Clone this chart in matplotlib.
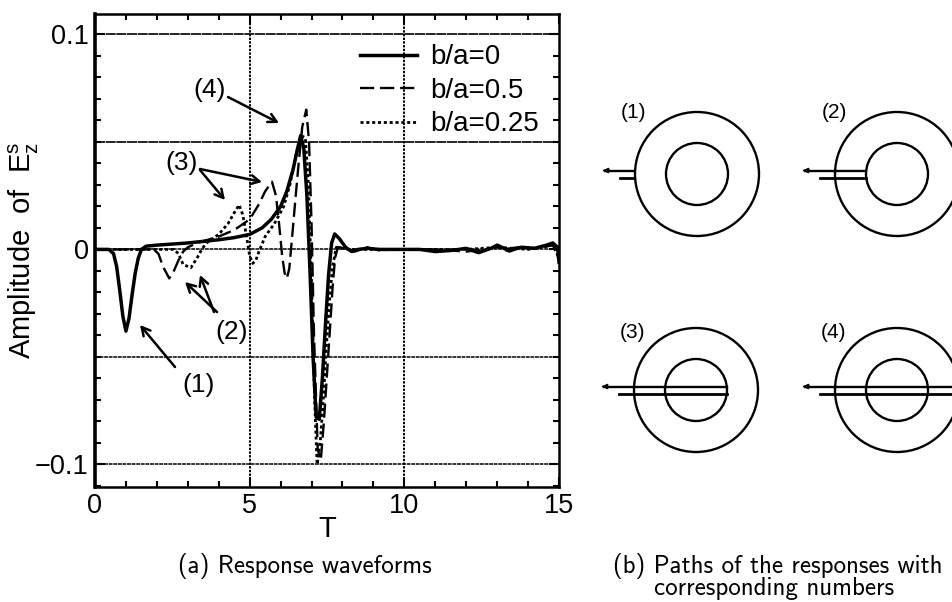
import matplotlib
matplotlib.use('Agg')
import matplotlib.pyplot as plt
from matplotlib.patches import Circle

plt.rcParams['font.family'] = ['Liberation Sans', 'DejaVu Sans']
plt.rcParams['mathtext.default'] = 'regular'

# curves
t_0 = [0, 0.45, 0.6, 0.7, 0.8, 0.9, 1.0, 1.1, 1.2, 1.3, 1.4, 1.5, 1.65, 2, 3, 4, 4.5, 5, 5.4, 5.7, 6, 6.2, 6.4, 6.55,
       6.65, 6.75, 6.85, 6.95, 7.05, 7.15, 7.25, 7.35, 7.45, 7.55, 7.65, 7.75, 7.9, 8.1, 8.3, 8.5, 8.8, 9.2, 9.8,
       10.5, 11, 11.5, 12, 12.4, 12.8, 13, 13.3, 13.8, 14.2, 14.6, 14.8, 14.95, 15]
y_0 = [0, 0, -0.002, -0.008, -0.019, -0.031, -0.038, -0.032, -0.021, -0.011, -0.004, 0, 0.0015, 0.002, 0.003, 0.0045,
       0.0055, 0.007, 0.01, 0.014, 0.02, 0.027, 0.037, 0.047, 0.053, 0.047, 0.025, -0.01, -0.05, -0.078, -0.079,
       -0.06, -0.035, -0.012, 0.003, 0.0072, 0.005, 0.001, -0.001, 0, 0.0005, 0, 0, 0, -0.001, -0.0005, 0.0005, -0.0015,
       0.0005, 0.002, 0, 0.001, 0.0005, 0.002, 0.003, 0.001, -0.006]

t_5 = [0, 1.9, 2.05, 2.2, 2.4, 2.55, 2.7, 2.85, 3.0, 3.3, 4, 4.5, 5, 5.3, 5.5, 5.72, 5.85, 5.95, 6.05, 6.13, 6.2, 6.28,
       6.38, 6.47, 6.57, 6.7, 6.83, 6.92, 7.0, 7.08, 7.2, 7.3, 7.4, 7.5, 7.6, 7.68, 7.76, 7.85, 8.0, 8.4, 8.8, 9.2, 9.6,
       10, 11, 12, 12.6, 13, 13.4, 13.8, 14.3, 14.8, 15]
y_5 = [0, 0, -0.002, -0.008, -0.0135, -0.01, -0.005, -0.001, 0.001, 0.003, 0.006, 0.009, 0.014, 0.021, 0.027, 0.0315,
       0.025, 0.012, -0.003, -0.011, -0.0135, -0.009, 0.007, 0.022, 0.038, 0.057, 0.065, 0.05, 0.012, -0.04, -0.093,
       -0.098, -0.08, -0.058, -0.036, -0.018, -0.004, 0.001, 0.001, -0.001, 0.001, -0.0005, 0, 0, 0, -0.001, 0, 0.001,
       -0.001, 0.001, 0.0005, 0.002, -0.004]

t_25 = [0, 2.55, 2.7, 2.85, 3.1, 3.3, 3.45, 3.6, 4, 4.3, 4.5, 4.66, 4.78, 4.9, 5.0, 5.1, 5.2, 5.3, 5.5, 5.8, 6.1, 6.3, 6.5,
        6.65, 6.8, 6.9, 7.0, 7.1, 7.18, 7.28, 7.38, 7.48, 7.58, 7.68, 7.8, 8.2, 9, 10, 11, 12, 13, 14, 14.8, 15]
y_25 = [0, 0, -0.002, -0.007, -0.0085, -0.004, 0, 0.003, 0.007, 0.012, 0.017, 0.0207, 0.016, 0.006, -0.003, -0.0065,
        -0.005, -0.001, 0.006, 0.012, 0.02, 0.03, 0.044, 0.053, 0.052, 0.03, -0.015, -0.07, -0.1, -0.09, -0.07, -0.045,
        -0.024, -0.008, 0.001, 0, 0, 0, 0, 0, 0.001, 0, 0.002, -0.004]

x_major = [0, 5, 10, 15]
y_major = [-0.1, 0, 0.1]
y_major_labels = ['\u22120.1', '0', '0.1']
y_grid_solid = [0.05, 0.1]
y_grid_dotted = [-0.1, -0.05, 0]
x_grid = [5, 10]

# panel (b): circle centres in pixels and where the two path lines stop
centres = [(697, 174), (897, 174), (696, 390), (897, 390)]
path_names = ['(1)', '(2)', '(3)', '(4)']
path_ends = [633, 866, 727, 953]

W, H = 953, 602
fig = plt.figure(figsize=(W / 100, H / 100), dpi=100)
ax = fig.add_axes([95 / W, 1 - 487 / H, (559 - 95) / W, (487 - 14) / H])

for v in y_grid_solid:
    ax.axhline(v, color='k', lw=1.2, ls=(0, (6, 0.4)), zorder=1)
for v in y_grid_dotted:
    ax.axhline(v, color='k', lw=1.1, ls=(0, (2.5, 0.5)), zorder=1)
for v in x_grid:
    ax.axvline(v, color='k', lw=1.4, ls=(0, (1.2, 0.7)), zorder=1)

ax.plot(t_0, y_0, 'k-', lw=2.5, label='b/a=0', zorder=3)
ax.plot(t_5, y_5, 'k', lw=1.7, ls=(0, (6, 2.5)), label='b/a=0.5', zorder=3)
ax.plot(t_25, y_25, 'k', lw=2.0, ls=(0, (1.1, 1)), label='b/a=0.25', zorder=3)

ax.set_xlim(0, 15)
ax.set_ylim(-0.1105, 0.1095)
ax.set_xticks(x_major)
ax.set_xticks(range(0, 16), minor=True)
ax.set_yticks(y_major)
ax.set_yticklabels(y_major_labels)
ax.set_yticks([i / 100 for i in range(-11, 11)], minor=True)
ax.tick_params(which='both', direction='in', top=True, right=True, width=1.5)
ax.tick_params(which='major', length=7, labelsize=19.5, pad=4.5)
ax.tick_params(which='minor', length=4)
for name in ['top', 'bottom', 'right']:
    ax.spines[name].set_linewidth(1.8)
ax.spines['left'].set_linewidth(2.6)

ax.set_xlabel('T', fontsize=21, labelpad=-3)
ax.set_ylabel('Amplitude  of  E$_z^s$', fontsize=21, va='bottom')
ax.yaxis.set_label_coords((41 - 95) / 464, 0.5)

ax.legend(loc='upper left', bbox_to_anchor=(0.572, 0.936), frameon=False, fontsize=20,
          handlelength=2.05, handletextpad=0.45, labelspacing=0.27, borderpad=0, borderaxespad=0)

# overlay in pixel coordinates for the callouts and panel (b)
ov = fig.add_axes([0, 0, 1, 1])
ov.set_xlim(0, W)
ov.set_ylim(H, 0)
ov.axis('off')
ov.patch.set_alpha(0)

callouts = [
    ('(4)', 210, 90, [((228, 97), (279, 123))]),
    ('(3)', 182, 163, [((200, 169), (262, 182)), ((200, 170), (225, 200))]),
    ('(2)', 232, 332, [((217, 312), (185, 282)), ((214, 312), (200, 275))]),
    ('(1)', 199, 385, [((175, 367), (140, 325))]),
]
for label, tx, ty, arrows in callouts:
    ov.text(tx, ty, label, fontsize=19, ha='center', va='center')
    for start, end in arrows:
        ov.annotate('', xy=end, xytext=start,
                    arrowprops=dict(arrowstyle='->,head_length=0.6,head_width=0.32', lw=1.8, color='k',
                                    shrinkA=0, shrinkB=0))

for (cx, cy), name, end in zip(centres, path_names, path_ends):
    ov.add_patch(Circle((cx, cy), 62, fill=False, lw=1.7, ec='k'))
    ov.add_patch(Circle((cx, cy), 31, fill=False, lw=1.7, ec='k'))
    ov.text(cx - 63, cy - 61 if cy < 300 else cy - 58, name, fontsize=15, ha='center', va='center')
    x0 = cx - 95
    ov.plot([x0 + 3, end], [cy - 3.5, cy - 3.5], 'k', lw=1.7)
    ov.plot([x0 + 18, end], [cy + 3.5, cy + 3.5], 'k', lw=2.0)
    ov.annotate('', xy=(x0, cy - 3.5), xytext=(x0 + 8, cy - 3.5),
                arrowprops=dict(arrowstyle='-|>,head_length=0.35,head_width=0.15', color='k', lw=1,
                                shrinkA=0, shrinkB=0))

caption = dict(family=['cmss10', 'DejaVu Sans'], fontsize=18, va='center', ha='center')
ov.text(305, 566, '(a) Response waveforms', **caption)
ov.text(778, 566, '(b) Paths of the responses with', **caption)
ov.text(774, 589, 'corresponding numbers', **caption)

fig.savefig('out.png', dpi=100, facecolor='white')
